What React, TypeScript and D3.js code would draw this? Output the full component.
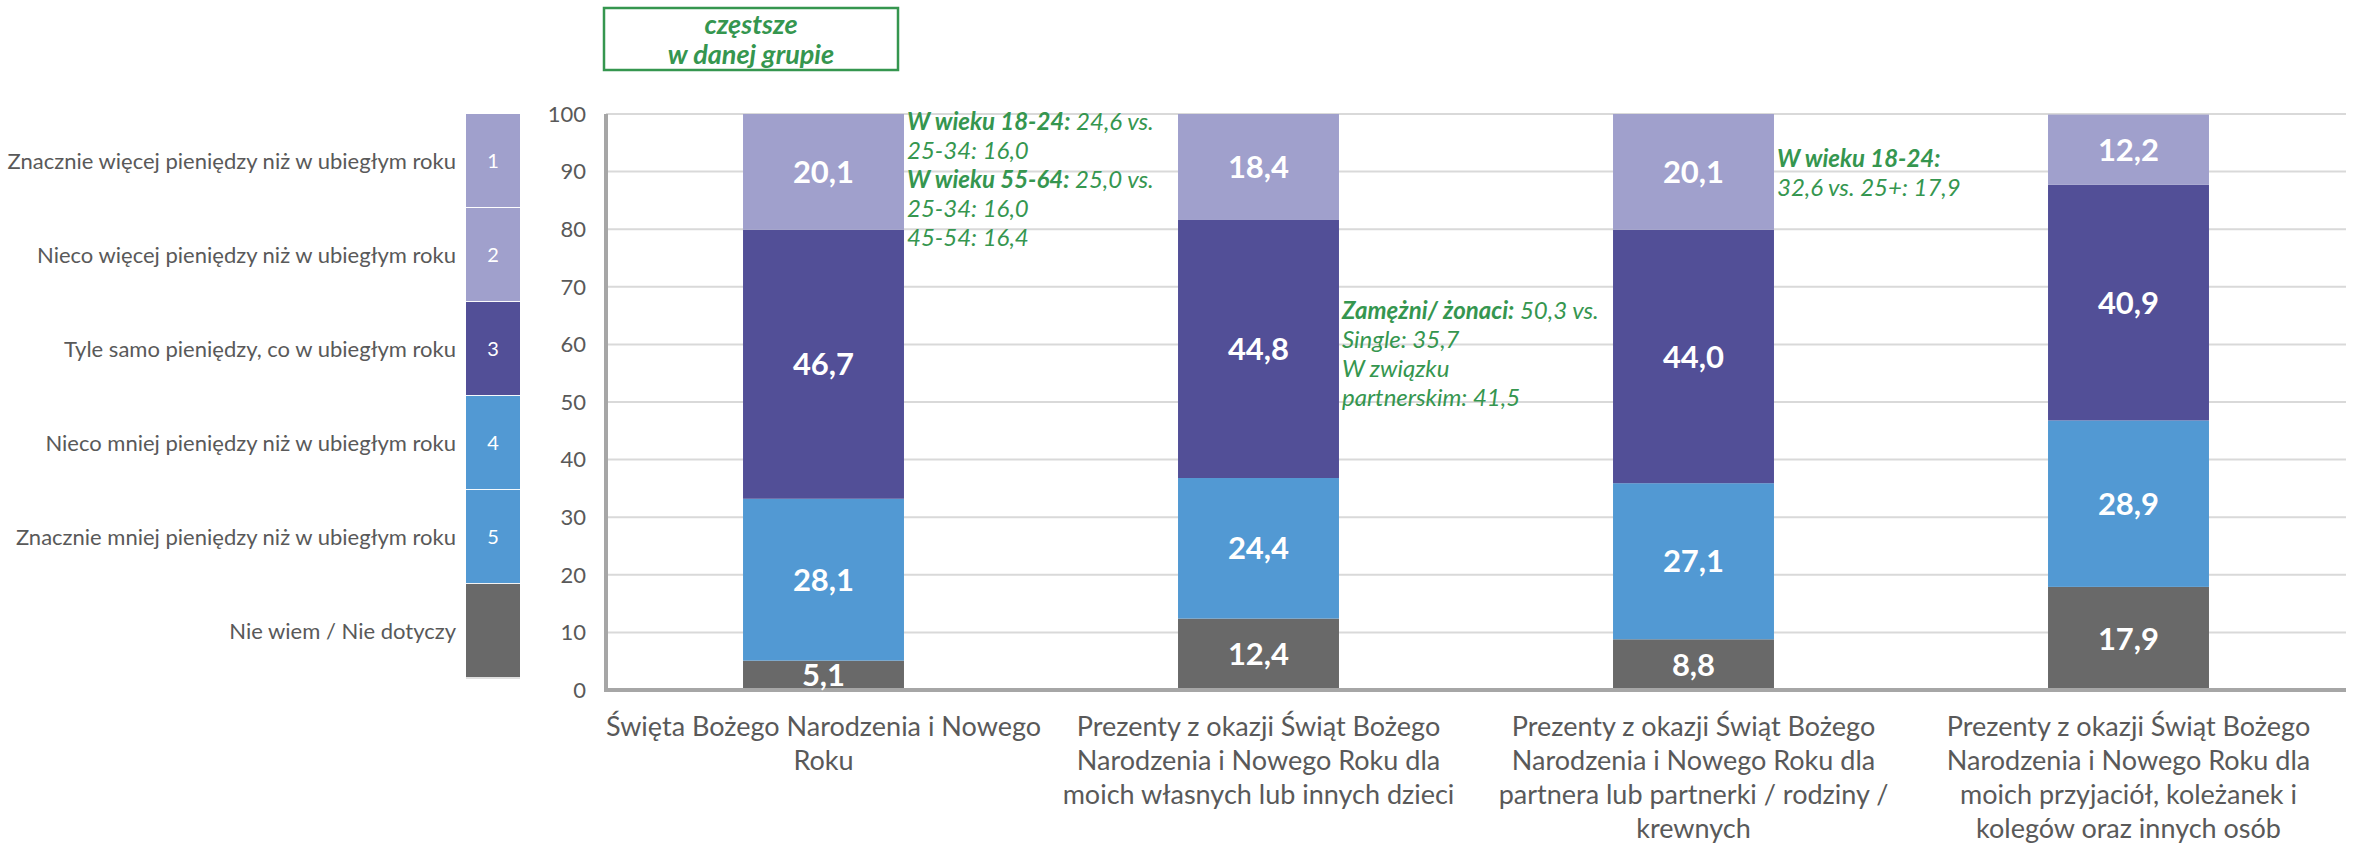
import React from 'react';
import * as d3 from 'd3';

// categories (x axis)
const categories = [
  ['Święta Bożego Narodzenia i Nowego', 'Roku'],
  ['Prezenty z okazji Świąt Bożego', 'Narodzenia i Nowego Roku dla', 'moich własnych lub innych dzieci'],
  ['Prezenty z okazji Świąt Bożego', 'Narodzenia i Nowego Roku dla', 'partnera lub partnerki / rodziny /', 'krewnych'],
  ['Prezenty z okazji Świąt Bożego', 'Narodzenia i Nowego Roku dla', 'moich przyjaciół, koleżanek i', 'kolegów oraz innych osób'],
];

// stacked series, bottom to top
const nieWiem = [5.1, 12.4, 8.8, 17.9];
const mniej = [28.1, 24.4, 27.1, 28.9];
const tyleSamo = [46.7, 44.8, 44.0, 40.9];
const wiecej = [20.1, 18.4, 20.1, 12.2];

const yTicks = [0, 10, 20, 30, 40, 50, 60, 70, 80, 90, 100];

const legendLabels = [
  'Znacznie więcej pieniędzy niż w ubiegłym roku',
  'Nieco więcej pieniędzy niż w ubiegłym roku',
  'Tyle samo pieniędzy, co w ubiegłym roku',
  'Nieco mniej pieniędzy niż w ubiegłym roku',
  'Znacznie mniej pieniędzy niż w ubiegłym roku',
  'Nie wiem / Nie dotyczy',
];
const legendNumbers = ['1', '2', '3', '4', '5', ''];

// annotations: [category index, value at first line, lines of [bold, normal]]
const notes: { cat: number; top: number; lines: [string, string][] }[] = [
  {
    cat: 0, top: 98.6, lines: [
      ['W wieku 18-24:', ' 24,6 vs.'],
      ['', '25-34: 16,0'],
      ['W wieku 55-64:', ' 25,0 vs.'],
      ['', '25-34: 16,0'],
      ['', '45-54: 16,4'],
    ],
  },
  {
    cat: 1, top: 65.9, lines: [
      ['Zamężni/ żonaci:', ' 50,3 vs.'],
      ['', 'Single: 35,7'],
      ['', 'W związku'],
      ['', 'partnerskim: 41,5'],
    ],
  },
  {
    cat: 2, top: 92.2, lines: [
      ['W wieku 18-24:', ''],
      ['', '32,6 vs. 25+: 17,9'],
    ],
  },
];

const W = 2356;
const H = 844;
const FONT = 'Lato, "Open Sans", sans-serif';
const GREEN = '#35964F';
const TEXT = '#595959';

const keys = ['nieWiem', 'mniej', 'tyleSamo', 'wiecej'];
const colors: Record<string, string> = {
  nieWiem: '#696969',
  mniej: '#5299D3',
  tyleSamo: '#524F97',
  wiecej: '#A0A0CC',
};
const legendColors = ['#A0A0CC', '#A0A0CC', '#524F97', '#5299D3', '#5299D3', '#696969'];

export default function App() {
  const margin = { left: 606, right: 10, top: 114, bottom: 154 };
  const rows = categories.map((c, i) => ({
    i,
    nieWiem: nieWiem[i],
    mniej: mniej[i],
    tyleSamo: tyleSamo[i],
    wiecej: wiecej[i],
  }));

  const x = d3.scaleBand<number>()
    .domain(d3.range(categories.length))
    .range([margin.left, W - margin.right])
    .paddingInner(0.63)
    .paddingOuter(0.315);
  const y = d3.scaleLinear().domain([0, 100]).range([H - margin.bottom, margin.top]);

  const stacked = d3.stack<any>().keys(keys)(rows);

  const legendY = d3.scaleBand<number>()
    .domain(d3.range(legendLabels.length))
    .range([y(100), y(2.1)]);
  const legendX = 466;
  const legendW = 54;

  return (
    <div style={{ position: 'absolute', left: 0, top: 0 }}>
      <svg width={W} height={H} style={{ display: 'block', fontFamily: FONT }}>
        <rect width={W} height={H} fill="#fff" />

        {/* highlight box */}
        <rect x={604} y={8} width={294} height={62} fill="none" stroke={GREEN} strokeWidth={2.5} />
        <text x={751} y={34} textAnchor="middle" fill={GREEN} fontSize={27} fontWeight={700} fontStyle="italic">częstsze</text>
        <text x={751} y={64} textAnchor="middle" fill={GREEN} fontSize={27} fontWeight={700} fontStyle="italic">w danej grupie</text>

        {/* gridlines and y ticks */}
        {yTicks.map((t) => (
          <g key={t}>
            {t > 0 && (
              <line x1={margin.left} x2={W - margin.right} y1={y(t)} y2={y(t)} stroke="#D9D9D9" strokeWidth={2} />
            )}
            <text x={586} y={y(t)} dy="0.35em" textAnchor="end" fill={TEXT} fontSize={22}>{t}</text>
          </g>
        ))}

        {/* bars */}
        {stacked.map((s) => (
          <g key={s.key} fill={colors[s.key]}>
            {s.map((d, i) => (
              <rect key={i} x={x(i)} y={y(d[1])} width={x.bandwidth()} height={y(d[0]) - y(d[1])} />
            ))}
          </g>
        ))}

        {/* axes */}
        <line x1={margin.left} x2={margin.left} y1={y(100)} y2={y(0) + 2} stroke="#A6A6A6" strokeWidth={4} />
        <line x1={margin.left - 2} x2={W - margin.right} y1={y(0)} y2={y(0)} stroke="#A6A6A6" strokeWidth={4} />

        {/* value labels */}
        {stacked.map((s) => (
          <g key={s.key}>
            {s.map((d, i) => (
              <text key={i} x={x(i)! + x.bandwidth() / 2} y={y((d[0] + d[1]) / 2)} dy="0.36em"
                textAnchor="middle" fill="#fff" fontSize={31} fontWeight={700}>
                {d3.format('.1f')(d[1] - d[0]).replace('.', ',')}
              </text>
            ))}
          </g>
        ))}

        {/* category labels */}
        {categories.map((lines, i) => (
          <text key={i} x={x(i)! + x.bandwidth() / 2} y={y(0) + 46} textAnchor="middle" fill={TEXT} fontSize={27}>
            {lines.map((l, j) => (
              <tspan key={j} x={x(i)! + x.bandwidth() / 2} dy={j === 0 ? 0 : 34}>{l}</tspan>
            ))}
          </text>
        ))}

        {/* annotations */}
        {notes.map((n, k) => (
          <text key={k} x={x(n.cat)! + x.bandwidth() + 3} y={y(n.top)} dy="0.35em" fill={GREEN} fontSize={24} fontStyle="italic">
            {n.lines.map(([b, r], j) => (
              <tspan key={j} x={x(n.cat)! + x.bandwidth() + 3} dy={j === 0 ? '0.35em' : 29}>
                {b && <tspan fontWeight={700}>{b}</tspan>}
                {r}
              </tspan>
            ))}
          </text>
        ))}

        {/* legend */}
        {legendLabels.map((l, i) => (
          <g key={i}>
            <rect x={legendX} y={legendY(i)} width={legendW} height={legendY.bandwidth()} fill={legendColors[i]} />
            <line x1={legendX} x2={legendX + legendW} y1={legendY(i)! + legendY.bandwidth()} y2={legendY(i)! + legendY.bandwidth()}
              stroke={i === legendLabels.length - 1 ? '#E0E0E0' : '#fff'} strokeWidth={2} />
            <text x={legendX + legendW / 2} y={legendY(i)! + legendY.bandwidth() / 2} dy="0.35em" textAnchor="middle" fill="#fff" fontSize={20}>
              {legendNumbers[i]}
            </text>
            <text x={456} y={legendY(i)! + legendY.bandwidth() / 2} dy="0.35em" textAnchor="end" fill={TEXT} fontSize={22}>
              {l}
            </text>
          </g>
        ))}
      </svg>
    </div>
  );
}
